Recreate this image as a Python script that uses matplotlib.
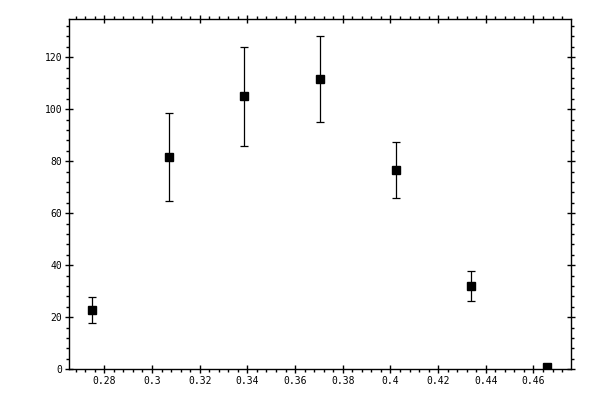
"""Scatter of measured counts with error bars, boxed axes with ticks on all sides"""
import matplotlib
matplotlib.use("Agg")
import matplotlib.pyplot as plt
from matplotlib.ticker import MultipleLocator, FuncFormatter

x_vals = [0.275, 0.307, 0.3385, 0.3705, 0.4025, 0.434, 0.4657]
y_vals = [22.7, 81.5, 105.0, 111.5, 76.5, 31.9, 0.9]
y_errs = [5.0, 17.0, 19.0, 16.5, 10.8, 5.7, 0.3]

fig = plt.figure(figsize=(6, 4), dpi=100)
ax = fig.add_axes([0.1155, 0.077, 0.836, 0.875])

ax.errorbar(x_vals, y_vals, yerr=y_errs, fmt='s', color='black',
            markersize=6.3, elinewidth=0.9, capsize=2.7, capthick=0.9)

ax.set_xlim(0.2653, 0.4757)
ax.set_ylim(0, 134.6)

ax.xaxis.set_major_locator(MultipleLocator(0.02))
ax.xaxis.set_minor_locator(MultipleLocator(0.004))
ax.yaxis.set_major_locator(MultipleLocator(20))
ax.yaxis.set_minor_locator(MultipleLocator(4))
ax.xaxis.set_major_formatter(FuncFormatter(lambda v, p: "%g" % round(v, 4)))
ax.yaxis.set_major_formatter(FuncFormatter(lambda v, p: "%g" % round(v, 4)))

for sp in ax.spines.values():
    sp.set_linewidth(1)

ax.tick_params(which='major', direction='inout', length=6, width=1,
               top=True, right=True, labelsize=7, pad=2)
ax.tick_params(which='minor', direction='out', length=2.5, width=1,
               top=True, right=True)
for lab in ax.get_xticklabels() + ax.get_yticklabels():
    lab.set_family('DejaVu Sans Mono')

fig.savefig("out.png", dpi=100)
